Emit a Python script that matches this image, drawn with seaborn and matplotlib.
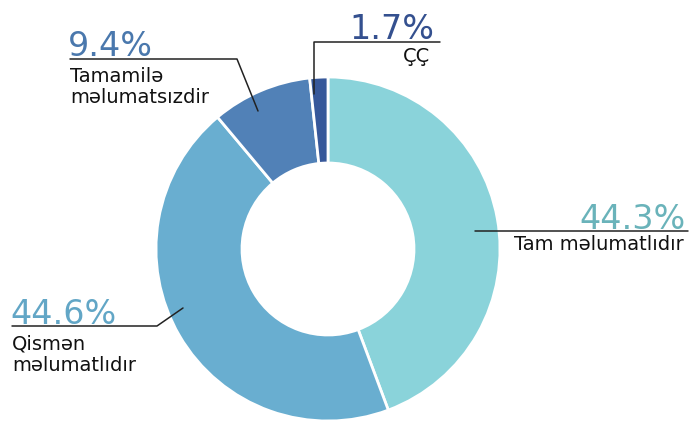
import matplotlib
matplotlib.use("Agg")
import matplotlib.pyplot as plt
import seaborn as sns

# Data
labels = ['Tam məlumatlıdır', 'Qismən\nməlumatlıdır', 'Tamamilə\nməlumatsızdir', 'ÇÇ']
shares = [44.3, 44.6, 9.4, 1.7]
pct_text = ['44.3%', '44.6%', '9.4%', '1.7%']

sns.set_style('white')
plt.rcParams['font.family'] = ['DejaVu Sans']

colors = ['#8ad3da', '#69aed0', '#5181b7', '#37589a']
pct_colors = ['#6ab3ba', '#62a6c6', '#4a78ad', '#34508f']

H = 431
fig = plt.figure(figsize=(6.93, 4.31), dpi=100)
ax = fig.add_axes([0, 0, 1, 1])

cx, cy, r = 328, H - 250, 172
ax.pie(shares, colors=colors, startangle=90, counterclock=False,
       center=(cx, cy), radius=r,
       wedgeprops=dict(width=r * 0.5, edgecolor='white', linewidth=2))
ax.set_xlim(0, 693)
ax.set_ylim(0, H)
ax.set_aspect('equal')
ax.axis('off')


def Y(y):
    return H - y


line_kw = dict(color='#222222', lw=1.1)
pfs = 24
lfs = 14

# 44.3% - Tam məlumatlıdır
ax.plot([475, 688], [Y(232), Y(232)], **line_kw)
ax.text(686, Y(229), pct_text[0], color=pct_colors[0], fontsize=pfs, ha='right', va='baseline')
ax.text(684, Y(245), labels[0], fontsize=lfs, ha='right', va='center', color='#111111')

# 44.6% - Qismən
ax.plot([12, 157, 183], [Y(327), Y(327), Y(309)], **line_kw)
ax.text(10, Y(324), pct_text[1], color=pct_colors[1], fontsize=pfs, ha='left', va='baseline')
ax.text(12, Y(335), labels[1], fontsize=lfs, ha='left', va='top', color='#111111', linespacing=1.12)

# 9.4% - Tamamilə
ax.plot([70, 237, 258], [Y(60), Y(60), Y(112)], **line_kw)
ax.text(68, Y(56), pct_text[2], color=pct_colors[2], fontsize=pfs, ha='left', va='baseline')
ax.text(70, Y(67), labels[2], fontsize=lfs, ha='left', va='top', color='#111111', linespacing=1.12)

# 1.7% - ÇÇ
ax.plot([440, 314, 314], [Y(43), Y(43), Y(95)], **line_kw)
ax.text(434, Y(39), pct_text[3], color=pct_colors[3], fontsize=pfs, ha='right', va='baseline')
ax.text(430, Y(57), labels[3], fontsize=lfs, ha='right', va='center', color='#111111')

fig.savefig('out.png', dpi=100)
